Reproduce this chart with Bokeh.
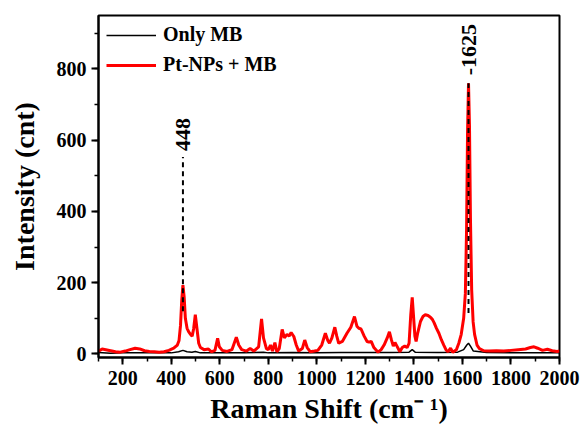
import math
from bokeh.plotting import figure
from bokeh.models import Range1d, LinearAxis, Legend, LegendItem, FixedTicker, Label, Span
from bokeh.core.properties import value
from bokeh.embed import file_html
from bokeh.resources import INLINE

FONT = "Liberation Serif"

# Pt-NPs + MB spectrum
red_x = [100, 115, 130, 150, 170, 190, 210, 230, 251, 270, 290, 310, 330, 350, 370, 390,
         410, 425, 432, 438, 443, 448, 453, 458, 465, 472, 478, 486, 492, 499, 506, 513,
         520, 535, 553, 565, 580, 591, 598, 610, 630, 650, 668, 678, 690, 710, 725, 740,
         760, 772, 780, 792, 800, 809, 817, 827, 835, 845, 857, 866, 877, 886, 894, 905,
         915, 925, 940, 950, 960, 973, 990, 1004, 1020, 1035, 1045, 1052, 1062, 1074, 1082, 1090,
         1105, 1124, 1140, 1155, 1165, 1173, 1182, 1195, 1207, 1215, 1224, 1235, 1252, 1265, 1277, 1290,
         1299, 1307, 1315, 1322, 1330, 1342, 1352, 1362, 1372, 1380, 1387, 1393, 1399, 1404, 1409, 1416,
         1427, 1437, 1447, 1458, 1468, 1476, 1483, 1493, 1503, 1513, 1523, 1532, 1540, 1551, 1560, 1575,
         1585, 1595, 1605, 1612, 1617, 1621, 1625, 1629, 1633, 1638, 1644, 1650, 1660, 1670, 1688, 1710,
         1740, 1770, 1800, 1830, 1860, 1880, 1895, 1910, 1930, 1950, 1970, 1990, 2000]
red_y = [8, 14, 12, 9, 6, 5, 8, 12, 16, 14, 9, 7, 6, 5, 6, 10,
         16, 25, 38, 80, 150, 193, 160, 100, 72, 62, 56, 50, 70, 110, 70, 30,
         18, 12, 14, 6, 10, 44, 20, 10, 7, 12, 47, 25, 12, 8, 15, 8,
         20, 98, 45, 15, 12, 25, 8, 32, 6, 15, 69, 45, 55, 50, 60, 49,
         25, 8, 15, 39, 18, 6, 8, 10, 25, 58, 38, 30, 45, 75, 50, 30,
         35, 58, 75, 105, 78, 72, 70, 50, 35, 33, 35, 18, 5, 12, 25, 45,
         62, 40, 22, 32, 22, 6, 18, 22, 18, 30, 110, 159, 100, 50, 35, 60,
         91, 105, 110, 108, 103, 97, 88, 72, 58, 40, 25, 12, 6, 16, 5, 12,
         30, 55, 100, 170, 350, 620, 760, 640, 380, 180, 90, 55, 25, 15, 9, 8,
         9, 8, 10, 12, 14, 18, 20, 16, 10, 13, 9, 7, 8]

# Only MB spectrum
blk_x = [100, 150, 200, 300, 400, 430, 448, 465, 485, 499, 520, 600, 700, 780, 800, 900,
         1000, 1100, 1200, 1300, 1380, 1393, 1405, 1500, 1580, 1605, 1618, 1625, 1633, 1645, 1700, 1800,
         1900, 2000]
blk_y = [4, 2, 3, 3, 3, 6, 10, 6, 5, 7, 3, 3, 3, 5, 3, 4,
         3, 4, 4, 4, 5, 12, 5, 4, 5, 12, 25, 30, 22, 8, 4, 3,
         3, 3]

peak_pos = [448, 1625]
peak_labels = ["448", "-1625"]
peak_line_top = [553, 760]
peak_line_bottom = [120, 115]
peak_label_y = [570, 782]

x_ticks = [200, 400, 600, 800, 1000, 1200, 1400, 1600, 1800, 2000]
y_ticks = [0, 200, 400, 600, 800]

p = figure(width=581, height=426, output_backend="svg", toolbar_location=None,
           x_range=Range1d(100, 2000), y_range=Range1d(-10, 950),
           min_border_left=98, min_border_right=22, min_border_top=15, min_border_bottom=69)
p.background_fill_color = "white"
p.border_fill_color = "white"
p.grid.visible = False
p.outline_line_color = "black"
p.outline_line_width = 2

for ax in (p.xaxis[0], p.yaxis[0]):
    ax.axis_line_width = 2
    ax.major_tick_line_width = 2
    ax.minor_tick_line_width = 1.5
    ax.major_tick_out = 7
    ax.major_tick_in = 0
    ax.minor_tick_out = 4
    ax.minor_tick_in = 0
    ax.major_label_text_font = FONT
    ax.major_label_text_font_style = "bold"
    ax.major_label_text_font_size = "20px"
    ax.major_label_text_color = "black"
    ax.axis_label_text_font = FONT
    ax.axis_label_text_font_style = "bold"
    ax.axis_label_text_font_size = "28px"
    ax.axis_label_text_color = "black"

p.xaxis.ticker = FixedTicker(ticks=x_ticks, minor_ticks=list(range(100, 2001, 100)))
p.yaxis.ticker = FixedTicker(ticks=y_ticks, minor_ticks=list(range(0, 901, 100)))
p.xaxis.axis_label = "Raman Shift (cm\u207b \u00b9)"
p.yaxis.axis_label = "Intensity (cnt)"
p.xaxis.major_label_standoff = 6
p.yaxis.major_label_standoff = 5
p.xaxis.axis_label_standoff = 5
p.yaxis.axis_label_standoff = 14

l1 = p.line(blk_x, blk_y, line_color="black", line_width=1.5)
l2 = p.line(red_x, red_y, line_color="red", line_width=3)

for xp, t, yb, yt, yl in zip(peak_pos, peak_labels, peak_line_bottom, peak_line_top, peak_label_y):
    p.segment(x0=[xp], y0=[yb], x1=[xp], y1=[yt], line_color="black", line_width=2, line_dash="5 4")
    p.add_layout(Label(x=xp, y=yl, text=t, angle=math.pi / 2, text_align="left",
                       text_baseline="middle", text_font=FONT, text_font_style="bold",
                       text_font_size="22px", text_color="black"))

legend = Legend(items=[LegendItem(label="Only MB", renderers=[l1]),
                       LegendItem(label="Pt-NPs + MB", renderers=[l2])],
                location="top_left", margin=8, padding=0, spacing=7,
                glyph_width=50, glyph_height=20, label_height=20, label_standoff=7,
                border_line_color=None, background_fill_alpha=0,
                label_text_font=FONT, label_text_font_style="bold",
                label_text_font_size="20px", label_text_color="black")
p.add_layout(legend)

open("out.html", "w").write(file_html(p, INLINE))
